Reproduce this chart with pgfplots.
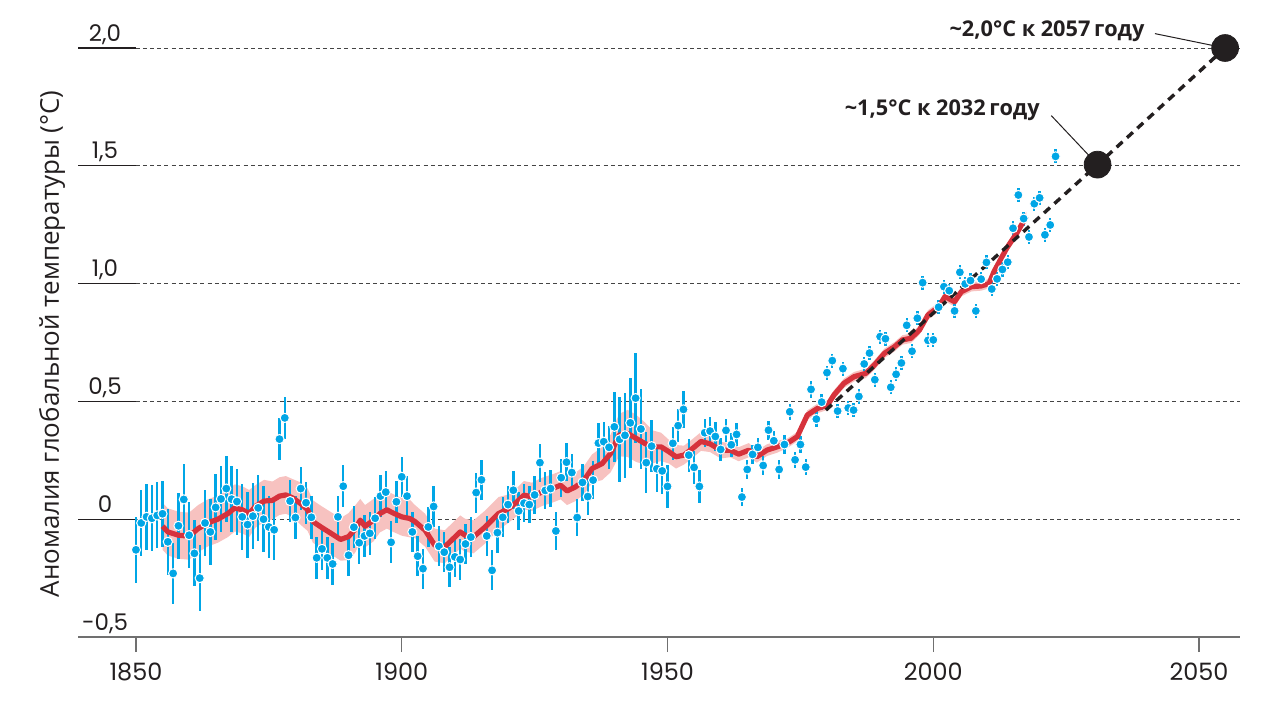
\documentclass[border=0pt]{standalone}
\usepackage{fontspec}
\setmainfont{Open Sans}
\newfontfamily\pop{Poppins}
\usepackage{pgfplots}
\pgfplotsset{compat=1.18}
\usepgfplotslibrary{fillbetween}
\usepackage{pgfplotstable}
\definecolor{ptblue}{HTML}{00A6E6}
\definecolor{ptred}{HTML}{D6323C}
\definecolor{ptpink}{HTML}{F7C2C0}
\definecolor{ptblack}{HTML}{231F20}
\definecolor{axgray}{HTML}{707070}
\definecolor{grdgray}{HTML}{444444}

\pgfplotstableread{
x y err
1850 -0.130 0.14
1851 -0.016 0.14
1852 0.010 0.14
1853 0.004 0.14
1854 0.016 0.14
1855 0.023 0.14
1856 -0.096 0.14
1857 -0.230 0.13
1858 -0.028 0.14
1859 0.084 0.15
1860 -0.068 0.14
1861 -0.145 0.14
1862 -0.250 0.14
1863 -0.016 0.14
1864 -0.054 0.14
1865 0.050 0.14
1866 0.086 0.14
1867 0.130 0.14
1868 0.085 0.14
1869 0.075 0.14
1870 0.010 0.14
1871 -0.023 0.14
1872 0.013 0.14
1873 0.048 0.14
1874 0.000 0.14
1875 -0.033 0.13
1876 -0.045 0.13
1877 0.340 0.09
1878 0.430 0.09
1879 0.077 0.09
1880 0.007 0.09
1881 0.130 0.09
1882 0.070 0.09
1883 0.008 0.09
1884 -0.164 0.09
1885 -0.126 0.09
1886 -0.164 0.09
1887 -0.190 0.09
1888 0.010 0.09
1889 0.140 0.09
1890 -0.153 0.09
1891 -0.034 0.09
1892 -0.100 0.09
1893 -0.071 0.09
1894 -0.060 0.09
1895 0.004 0.09
1896 0.098 0.09
1897 0.115 0.09
1898 -0.098 0.09
1899 0.074 0.09
1900 0.180 0.085
1901 0.098 0.085
1902 -0.054 0.085
1903 -0.157 0.085
1904 -0.210 0.085
1905 -0.033 0.085
1906 0.054 0.085
1907 -0.115 0.085
1908 -0.140 0.085
1909 -0.204 0.085
1910 -0.160 0.085
1911 -0.171 0.085
1912 -0.105 0.085
1913 -0.076 0.085
1914 0.113 0.085
1915 0.167 0.085
1916 -0.071 0.085
1917 -0.217 0.085
1918 -0.057 0.085
1919 0.008 0.085
1920 0.062 0.08
1921 0.123 0.08
1922 0.035 0.08
1923 0.068 0.08
1924 0.062 0.08
1925 0.103 0.08
1926 0.240 0.08
1927 0.122 0.08
1928 0.130 0.08
1929 -0.050 0.08
1930 0.176 0.08
1931 0.242 0.08
1932 0.198 0.08
1933 0.007 0.08
1934 0.156 0.08
1935 0.096 0.08
1936 0.166 0.08
1937 0.323 0.085
1938 0.329 0.085
1939 0.305 0.09
1940 0.392 0.15
1941 0.339 0.18
1942 0.356 0.18
1943 0.409 0.19
1944 0.514 0.19
1945 0.383 0.17
1946 0.240 0.13
1947 0.310 0.11
1948 0.214 0.10
1949 0.205 0.10
1950 0.139 0.09
1951 0.322 0.07
1952 0.397 0.07
1953 0.466 0.08
1954 0.272 0.07
1955 0.220 0.07
1956 0.139 0.07
1957 0.367 0.06
1958 0.374 0.06
1959 0.351 0.06
1960 0.296 0.05
1961 0.377 0.05
1962 0.316 0.05
1963 0.360 0.05
1964 0.094 0.04
1965 0.211 0.04
1966 0.275 0.04
1967 0.305 0.04
1968 0.228 0.04
1969 0.378 0.04
1970 0.333 0.04
1971 0.211 0.04
1972 0.317 0.04
1973 0.456 0.035
1974 0.252 0.035
1975 0.317 0.035
1976 0.221 0.035
1977 0.551 0.035
1978 0.425 0.035
1979 0.497 0.035
1980 0.622 0.03
1981 0.673 0.03
1982 0.459 0.03
1983 0.639 0.03
1984 0.472 0.03
1985 0.463 0.03
1986 0.521 0.03
1987 0.659 0.03
1988 0.705 0.03
1989 0.592 0.03
1990 0.775 0.03
1991 0.766 0.03
1992 0.560 0.03
1993 0.615 0.03
1994 0.663 0.03
1995 0.823 0.03
1996 0.713 0.03
1997 0.853 0.03
1998 1.004 0.03
1999 0.759 0.03
2000 0.761 0.03
2001 0.900 0.03
2002 0.987 0.03
2003 0.970 0.03
2004 0.884 0.03
2005 1.048 0.03
2006 0.999 0.03
2007 1.013 0.03
2008 0.884 0.03
2009 1.019 0.03
2010 1.090 0.03
2011 0.977 0.03
2012 1.020 0.03
2013 1.060 0.03
2014 1.091 0.03
2015 1.235 0.03
2016 1.376 0.03
2017 1.276 0.03
2018 1.198 0.03
2019 1.339 0.03
2020 1.364 0.03
2021 1.207 0.03
2022 1.249 0.03
2023 1.540 0.03
}\obs

\pgfplotstableread{
x y h
1855.0 -0.030 0.10
1856.0 -0.054 0.10
1858.0 -0.068 0.10
1860.0 -0.072 0.10
1861.7 -0.040 0.10
1863.5 -0.016 0.10
1865.4 0.000 0.10
1867.3 0.024 0.10
1868.6 0.048 0.10
1870.0 0.040 0.10
1871.3 0.024 0.10
1872.5 0.055 0.09
1874.1 0.077 0.09
1875.7 0.080 0.08
1877.0 0.098 0.08
1878.2 0.103 0.08
1879.5 0.090 0.08
1881.0 0.066 0.09
1882.3 0.040 0.09
1883.3 -0.010 0.09
1884.8 -0.033 0.09
1886.7 -0.060 0.09
1888.5 -0.086 0.09
1890.0 -0.074 0.10
1891.3 -0.040 0.10
1892.2 -0.004 0.09
1893.1 -0.030 0.09
1894.7 -0.004 0.09
1895.9 0.024 0.08
1897.2 0.040 0.08
1898.4 0.026 0.08
1900.0 0.010 0.08
1901.5 0.003 0.08
1902.5 -0.010 0.07
1904.4 -0.047 0.07
1906.2 -0.110 0.07
1908.1 -0.117 0.07
1909.4 -0.089 0.07
1911.0 -0.054 0.07
1911.9 -0.068 0.07
1913.5 -0.075 0.07
1915.7 -0.033 0.07
1918.2 0.024 0.07
1920.1 0.045 0.06
1921.7 0.074 0.06
1923.0 0.102 0.06
1924.5 0.095 0.06
1926.4 0.116 0.06
1928.3 0.130 0.06
1929.9 0.144 0.06
1931.1 0.120 0.06
1932.7 0.137 0.06
1934.3 0.166 0.06
1935.8 0.215 0.06
1937.7 0.236 0.07
1939.3 0.279 0.08
1940.9 0.357 0.09
1942.5 0.364 0.10
1944.1 0.343 0.10
1945.7 0.322 0.09
1947.2 0.307 0.07
1948.8 0.307 0.06
1950.3 0.286 0.05
1951.6 0.265 0.05
1953.1 0.272 0.04
1954.7 0.300 0.04
1956.3 0.330 0.04
1958.0 0.320 0.035
1960.0 0.293 0.035
1961.8 0.293 0.03
1963.4 0.276 0.03
1965.3 0.293 0.03
1966.8 0.265 0.025
1968.7 0.293 0.025
1970.6 0.307 0.025
1972.5 0.322 0.02
1974.4 0.350 0.02
1976.3 0.442 0.02
1978.2 0.470 0.02
1980.1 0.484 0.02
1981.3 0.527 0.02
1983.2 0.577 0.02
1985.1 0.605 0.02
1987.3 0.619 0.02
1988.9 0.654 0.02
1990.8 0.704 0.02
1992.7 0.732 0.02
1994.2 0.761 0.02
1995.8 0.768 0.02
1997.4 0.803 0.02
1999.0 0.867 0.02
2001.0 0.900 0.02
2002.2 0.945 0.02
2004.0 0.923 0.02
2005.3 0.966 0.02
2007.2 0.987 0.02
2009.0 0.990 0.02
2010.5 1.000 0.02
2011.4 1.050 0.02
2012.6 1.100 0.02
2013.8 1.150 0.02
2015.7 1.214 0.02
2017.5 1.285 0.02
}\smoothT

\begin{document}
\begin{tikzpicture}
\begin{axis}[
  at={(0,0)}, anchor=south west,
  scale only axis, width=581bp, height=294.5bp,
  xmin=1839.1, xmax=2057.7, ymin=-0.5, ymax=2,
  clip=false,
  axis lines*=left,
  y axis line style={draw=none},
  x axis line style={draw=axgray, line width=0.8bp},
  xtick={1850,1900,1950,2000,2050},
  xticklabels={1850,1900,1950,2000,2050},
  ytick={-0.5,0,0.5,1,1.5,2},
  yticklabels={{-0,5},{0},{0,5},{1,0},{1,5},{2,0}},
  xtick align=outside, ytick align=inside,
  major tick length=7.5bp,
  xtick style={draw=axgray, line width=0.6bp},
  ytick style={draw=none},
  ymajorgrids,
  major grid style={draw=grdgray, line width=0.45bp, dash pattern=on 2bp off 1.6bp},
  yticklabel style={font=\pop\fontsize{11.5}{12}\selectfont, anchor=base, inner sep=0pt, xshift=13.5bp, yshift=3.5bp, text=ptblack},
  xticklabel style={font=\pop\fontsize{12}{13}\selectfont, anchor=base, inner sep=0pt, yshift=-14bp, text=ptblack},
]
% solid left part of gridlines
\pgfplotsinvokeforeach{0,0.5,1,1.5,2}{
  \draw[ptblack, line width=0.6bp] (axis cs:1839.1,#1) -- (axis cs:1850,#1);
}
% uncertainty band
\addplot[name path=U, draw=none] table[x=x, y expr=\thisrow{y}+\thisrow{h}] {\smoothT};
\addplot[name path=L, draw=none] table[x=x, y expr=\thisrow{y}-\thisrow{h}] {\smoothT};
\addplot[fill=ptpink, draw=none] fill between[of=U and L];
% error bars
\addplot[draw=none, mark=none, error bars/.cd, y dir=both, y explicit, error mark=none,
  error bar style={draw=ptblue, solid, line width=1.2bp}]
  table[x=x, y=y, y error=err] {\obs};
% smoothed line
\addplot[ptred, line width=2.6bp, line join=round] table[x=x, y=y] {\smoothT};
% annual points
\addplot[only marks, mark=*, mark size=2.3bp,
  mark options={fill=ptblue, draw=white, line width=0.5bp}]
  table[x=x, y=y] {\obs};
% projection
\addplot[ptblack, line width=1.7bp, dash pattern=on 4bp off 3bp] coordinates {(1979.8,0.463) (2030.9,1.505) (2054.9,2.0)};
\draw[ptblack, line width=0.5bp] (axis cs:2022.2,1.713) -- (axis cs:2030.9,1.505);
\draw[ptblack, line width=0.5bp] (axis cs:2041.7,2.061) -- (axis cs:2054.9,2.0);
\addplot[only marks, mark=*, mark size=6.7bp, color=ptblack] coordinates {(2030.9,1.505) (2054.9,2.0)};
\node[anchor=base east, inner sep=0pt, font=\bfseries\fontsize{10.9}{11}\selectfont, text=ptblack] at (axis cs:2039.8,2.05) {\textasciitilde2,0°С к 2057\,году};
\node[anchor=base east, inner sep=0pt, font=\bfseries\fontsize{10.9}{11}\selectfont, text=ptblack] at (axis cs:2020.1,1.715) {\textasciitilde1,5°С к 2032\,году};
% y label
\node[rotate=90, inner sep=0pt, font=\fontsize{13}{14}\selectfont, text=ptblack] at (axis cs:1834.2,0.744) {Аномалия глобальной температуры (°С)};
\end{axis}
\pgfresetboundingbox
\useasboundingbox (-39bp,-35.5bp) rectangle (601bp,318.5bp);
\end{tikzpicture}
\end{document}
